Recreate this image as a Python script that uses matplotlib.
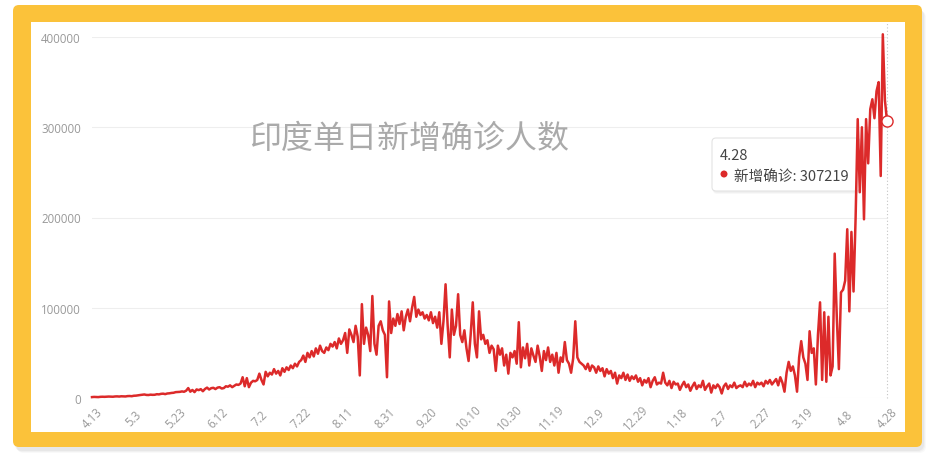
import numpy as np
import matplotlib.pyplot as plt
from matplotlib.patches import FancyBboxPatch, Circle
from matplotlib.transforms import IdentityTransform, ScaledTranslation

plt.rcParams['font.family'] = ['Noto Sans CJK SC', 'DejaVu Sans']

title = '印度单日新增确诊人数'
series_name = '新增确诊'
tip_date = '4.28'
tick_labels = ['4.13', '5.3', '5.23', '6.12', '7.2', '7.22', '8.11', '8.31', '9.20', '10.10',
               '10.30', '11.19', '12.9', '12.29', '1.18', '2.7', '2.27', '3.19', '4.8', '4.28']
y_ticks = [0, 100000, 200000, 300000, 400000]

# daily new cases, 4.13 -> 4.28 (one row per 20 days)
new_cases = [
    1000, 1200, 1100, 1000, 1300, 1400, 1300, 1500, 1600, 1500, 1400, 1700, 1800, 1600, 1900, 1800, 1700, 2100, 2200, 2000,
    2500, 2600, 3000, 3300, 3600, 3900, 3400, 3300, 3700, 3500, 3600, 4200, 4000, 4600, 4800, 4300, 5000, 5200, 5600, 5800,
    6500, 6700, 6800, 7300, 6900, 8100, 11000, 7000, 8900, 6500, 9500, 8700, 9800, 7500, 10000, 11500, 9400, 10900, 11300, 9900,
    11500, 12000, 10500, 11000, 13000, 12500, 14000, 12000, 13500, 15000, 14500, 16000, 23000, 13000, 22000, 12000, 17000, 19000, 18500, 20000,
    27000, 20000, 15000, 29000, 24000, 28000, 26000, 32000, 27000, 30000, 25000, 33000, 29000, 34000, 31000, 36000, 33000, 38000, 35000, 40000,
    42000, 47000, 40000, 50000, 45000, 52000, 46000, 55000, 49000, 58000, 52000, 50000, 56000, 53000, 60000, 57000, 62000, 55000, 66000, 60000,
    64000, 72000, 50000, 76000, 70000, 62000, 80000, 68000, 25000, 104000, 60000, 78000, 70000, 52000, 113000, 60000, 48000, 80000, 85000, 75000,
    70000, 23000, 107000, 72000, 88000, 80000, 93000, 82000, 96000, 75000, 90000, 98000, 85000, 100000, 112000, 90000, 98000, 92000, 95000, 88000,
    92000, 86000, 95000, 83000, 90000, 78000, 95000, 60000, 85000, 126000, 80000, 45000, 98000, 70000, 80000, 115000, 70000, 62000, 75000, 55000,
    41000, 70000, 106000, 60000, 45000, 96000, 65000, 70000, 60000, 64000, 50000, 58000, 54000, 30000, 58000, 48000, 55000, 36000, 48000, 27000,
    50000, 45000, 52000, 38000, 84000, 34000, 56000, 44000, 60000, 36000, 55000, 47000, 40000, 58000, 46000, 30000, 52000, 42000, 56000, 40000,
    48000, 36000, 50000, 28000, 45000, 40000, 62000, 42000, 38000, 28000, 44000, 85000, 45000, 40000, 38000, 36000, 32000, 38000, 30000, 36000,
    34000, 28000, 35000, 30000, 33000, 24000, 32000, 27000, 30000, 22000, 28000, 16000, 25000, 22000, 28000, 20000, 26000, 19000, 24000, 21000,
    25000, 18000, 22000, 14000, 20000, 17000, 22000, 12000, 19000, 23000, 15000, 17000, 16000, 28000, 17000, 14000, 19000, 11000, 18000, 15000,
    16000, 9000, 14000, 18000, 12000, 15000, 8000, 13000, 17000, 10000, 14000, 12000, 19000, 9000, 13000, 16000, 6000, 14000, 11000, 15000,
    12000, 5000, 13000, 16000, 10000, 14000, 12000, 17000, 11000, 13000, 14000, 12000, 18000, 13000, 16000, 14000, 19000, 12000, 17000, 15000,
    17000, 13000, 19000, 16000, 20000, 15000, 18000, 21000, 14000, 23000, 17000, 7000, 28000, 40000, 30000, 35000, 25000, 7000, 45000, 63000,
    45000, 38000, 20000, 74000, 50000, 55000, 15000, 70000, 106000, 20000, 95000, 18000, 90000, 25000, 35000, 160000, 90000, 32000, 117000, 120000,
    130000, 187000, 96000, 184000, 118000, 200000, 309000, 228000, 300000, 198000, 309000, 260000, 320000, 331000, 310000, 340000, 350000, 246000, 403000, 330000,
    307219,
]

W, H = 931, 464
RED = '#dc2a2a'

fig = plt.figure(figsize=(W / 100, H / 100), dpi=100)
fig.patch.set_facecolor('white')
ident = IdentityTransform()

# yellow frame with soft shadow
for i, a in enumerate([0.10, 0.08, 0.06]):
    fig.add_artist(FancyBboxPatch((13 + 2 + i, 12 - i), 909, 442,
                                  boxstyle='round,pad=0,rounding_size=7',
                                  transform=ident, fc='#9a9a9a', ec='none', alpha=a, zorder=-6))
fig.add_artist(FancyBboxPatch((13, 16), 909, 442, boxstyle='round,pad=0,rounding_size=6',
                              transform=ident, fc='#fbc23a', ec='none', zorder=-5))
fig.add_artist(FancyBboxPatch((31, 31), 874, 410, boxstyle='square,pad=0',
                              transform=ident, fc='white', ec='none', zorder=-4))

ax = fig.add_axes([92 / W, 65 / H, 795 / W, 361 / H])
ax.set_facecolor('none')
ax.set_zorder(1)

x = np.arange(len(new_cases))
ax.plot(x, new_cases, color=RED, lw=1.8, zorder=3, clip_on=False, solid_joinstyle='round')
ax.plot(x[-1], new_cases[-1], 'o', ms=8, mfc='white', mec=RED, mew=1.0, zorder=4, clip_on=False)
ax.axvline(x[-1], ymin=0, ymax=1.04, color='#c4c4c4', ls=(0, (1, 2)), lw=0.8, zorder=1, clip_on=False)

ax.set_xlim(0, len(new_cases) - 1)
ax.set_ylim(0, 400000)
ax.set_yticks(y_ticks)
ax.set_yticklabels([str(v) for v in y_ticks], family=['Open Sans', 'DejaVu Sans'])
ax.set_xticks(np.arange(0, len(new_cases), 20))
ax.set_xticklabels(tick_labels, rotation=45, ha='center', va='center', rotation_mode='anchor',
                   family=['Open Sans', 'DejaVu Sans'])
shift = ScaledTranslation(3 / 100, 0, fig.dpi_scale_trans)
for lab in ax.get_xticklabels():
    lab.set_transform(lab.get_transform() + shift)
ax.tick_params(axis='both', length=0, labelsize=8.3, labelcolor='#999999')
ax.tick_params(axis='y', pad=8)
ax.tick_params(axis='x', pad=14)
ax.yaxis.grid(True, color='#eeeeee', lw=0.8)
ax.set_axisbelow(True)
for s in ax.spines.values():
    s.set_visible(False)

fig.text(409 / W, 1 - 139 / H, title, fontsize=23, color='#aaaaaa', ha='center', va='center')

# tooltip
for i, a in enumerate([0.07, 0.05]):
    fig.add_artist(FancyBboxPatch((712 + 1, 272 - 2 - i), 148, 53, boxstyle='round,pad=0,rounding_size=4',
                                  transform=ident, fc='#888888', ec='none', alpha=a, zorder=0.2))
fig.add_artist(FancyBboxPatch((712, 272), 148, 53, boxstyle='round,pad=0,rounding_size=4',
                              transform=ident, fc='white', ec='#e3e3e3', lw=0.8, zorder=0.3))
fig.text(720 / W, 1 - 156 / H, tip_date, fontsize=10.5, color='#444444', ha='left', va='center', zorder=0.4)
fig.add_artist(Circle((724, 464 - 175), 3.5, transform=ident, fc=RED, ec='none', zorder=0.4))
fig.text(734 / W, 1 - 177 / H, f'{series_name}: {new_cases[-1]}', fontsize=10.5, color='#444444',
         ha='left', va='center', zorder=0.4)

fig.savefig('out.png', dpi=100)
